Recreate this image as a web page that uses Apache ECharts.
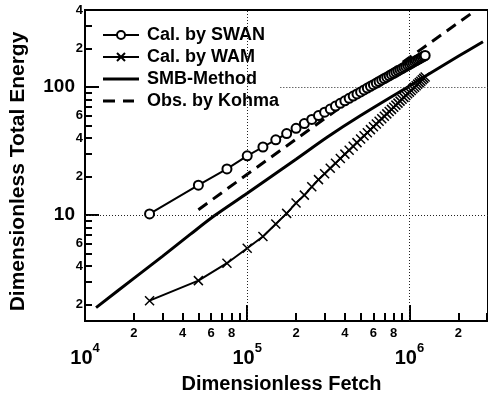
<!DOCTYPE html>
<html>
<head>
<meta charset="utf-8">
<title>Dimensionless Total Energy vs Fetch</title>
<script src="https://cdn.jsdelivr.net/npm/echarts@6.0.0/dist/echarts.min.js"></script>
<style>
  html, body { margin: 0; padding: 0; background: #fff; }
  #chart { width: 488px; height: 402px; }
</style>
</head>
<body>
<div id="chart"></div>
<script>
// 计算点的无因次风区 (SWAN 和 WAM 共用)
const calFetch = [25000, 50000, 75000, 100000, 125000, 150000, 175000, 200000, 225000, 250000,
  275000, 300000, 325000, 350000, 375000, 400000, 425000, 450000, 475000, 500000,
  525000, 550000, 575000, 600000, 625000, 650000, 675000, 700000, 725000, 750000,
  775000, 800000, 825000, 850000, 875000, 900000, 925000, 950000, 975000, 1000000,
  1025000, 1050000, 1075000, 1100000, 1125000, 1150000, 1175000, 1200000, 1225000, 1250000]

const swanEnergy = [10.2, 17.1, 22.9, 29.0, 34.0, 38.7, 43.3, 47.6, 51.8, 55.8,
  59.8, 63.6, 67.3, 71.0, 74.6, 78.1, 81.6, 85.0, 88.3, 91.6,
  94.9, 98.1, 101.3, 104.4, 107.5, 110.5, 113.6, 116.6, 119.5, 122.4,
  125.4, 128.2, 131.1, 133.9, 136.7, 139.5, 142.2, 145.0, 147.7, 150.4,
  153.1, 155.8, 158.4, 161.0, 163.6, 166.2, 168.8, 171.4, 173.9, 176.4]

const wamEnergy = [2.14, 3.07, 4.2, 5.5, 6.8, 8.5, 10.3, 12.4, 14.3, 16.6,
  18.9, 21.0, 23.2, 25.4, 27.6, 29.9, 32.1, 34.5, 36.8, 39.2,
  41.6, 44.0, 46.5, 49.0, 51.5, 54.0, 56.5, 59.1, 61.7, 64.3,
  66.9, 69.5, 72.2, 74.9, 77.6, 80.3, 83.0, 85.8, 88.5, 91.3,
  94.1, 96.9, 99.7, 102.5, 105.4, 108.3, 111.1, 114.0, 116.9, 119.8]

const smbFetch = [11700, 20000, 30000, 44500, 63000, 100000, 200000, 314000, 500000, 1000000, 1390000, 2000000, 2840000]
const smbEnergy = [1.89, 3.2, 4.75, 7.05, 9.9, 14.8, 27.3, 40.9, 59.9, 102, 131.8, 173.8, 226]

const kohmaFetch = [50000, 100000, 1000000, 2500000]
const kohmaEnergy = [11.0, 20.8, 170, 389]

// 刻度
const xMajorTicks = [10000, 100000, 1000000]
const xMinorTicks = [20000, 30000, 40000, 50000, 60000, 70000, 80000, 90000,
  200000, 300000, 400000, 500000, 600000, 700000, 800000, 900000, 2000000, 3000000]
const xMinorLabels = [20000, 40000, 60000, 80000, 200000, 400000, 600000, 800000, 2000000]
const yMajorTicks = [10, 100]
const yMinorTicks = [2, 3, 4, 5, 6, 7, 8, 9, 20, 30, 40, 50, 60, 70, 80, 90, 200, 300, 399.9]
const yMinorLabels = [2, 4, 6, 20, 40, 60, 200, 399.9]

const gridX = [100000, 1000000]
const gridY = [10, 100]

const xMin = 10000, xMax = 3050000
const yMin = 1.485, yMax = 400

function pairs(xs, ys) {
  return xs.map((x, i) => [x, ys[i]])
}

// 首位数字作为次刻度标签
function leadDigit(v) {
  const p = Math.pow(10, Math.floor(Math.log10(v) + 1e-9))
  return String(Math.round(v / p))
}

var fontFamily = '"Liberation Sans", Arial, sans-serif'
var black = '#000'

// 图例图标: 36x10 的框, 两个极小的角点撑开包围盒
var solidIcon = 'path://M0,0h0.01v0.01h-0.01z M0,3.5h36v3h-36z M36,10h-0.01v-0.01h0.01z'
var dashIcon = 'path://M0,0h0.01v0.01h-0.01z M0,3.5h12v3h-12z M20,3.5h11v3h-11z M36,10h-0.01v-0.01h0.01z'

var myChart = echarts.init(document.getElementById('chart'))

var baseX = {
  type: 'log',
  gridIndex: 0,
  position: 'bottom',
  min: xMin,
  max: xMax,
  splitLine: { show: false }
}
var baseY = {
  type: 'log',
  gridIndex: 0,
  position: 'left',
  min: yMin,
  max: yMax,
  splitLine: { show: false }
}

const option = {
  animation: false,
  backgroundColor: '#fff',
  textStyle: { fontFamily: fontFamily, color: black },
  grid: {
    left: 83,
    right: -5,
    top: 10,
    bottom: 81,
    show: true,
    borderColor: black,
    borderWidth: 2,
    backgroundColor: 'transparent'
  },
  legend: {
    orient: 'vertical',
    left: 97,
    top: 21,
    itemWidth: 36,
    itemHeight: 10,
    itemGap: 4,
    textStyle: { fontFamily: fontFamily, fontWeight: 'bold', fontSize: 18, color: black, padding: [0, 0, 0, 3] },
    data: [
      { name: 'Cal. by SWAN' },
      { name: 'Cal. by WAM' },
      { name: 'SMB-Method', icon: solidIcon },
      { name: 'Obs. by Kohma', icon: dashIcon }
    ]
  },
  xAxis: [
    Object.assign({}, baseX, {
      name: 'Dimensionless Fetch',
      nameLocation: 'middle',
      nameGap: 53,
      nameTextStyle: { fontFamily: fontFamily, fontWeight: 'bold', fontSize: 20, color: black, padding: [0, 10, 0, 0] },
      axisLine: { show: true, lineStyle: { color: black, width: 2 } },
      axisTick: { show: true, inside: true, length: 16, lineStyle: { color: black, width: 2 }, customValues: xMajorTicks },
      axisLabel: {
        show: true,
        margin: 21,
        customValues: xMajorTicks,
        formatter: function (v) {
          return '{b|10}{s|' + Math.round(Math.log10(v)) + '}'
        },
        rich: {
          b: { fontFamily: fontFamily, fontWeight: 'bold', fontSize: 20, lineHeight: 26, verticalAlign: 'bottom', color: black },
          s: { fontFamily: fontFamily, fontWeight: 'bold', fontSize: 13, lineHeight: 26, verticalAlign: 'top', color: black }
        }
      }
    }),
    Object.assign({}, baseX, {
      axisLine: { show: false },
      axisTick: { show: true, inside: true, length: 8, lineStyle: { color: black, width: 2 }, customValues: xMinorTicks },
      axisLabel: {
        show: true,
        margin: 6,
        customValues: xMinorLabels,
        formatter: leadDigit,
        fontFamily: fontFamily,
        fontWeight: 'bold',
        fontSize: 13,
        color: black
      }
    })
  ],
  yAxis: [
    Object.assign({}, baseY, {
      name: 'Dimensionless Total Energy',
      nameLocation: 'middle',
      nameGap: 56,
      nameTextStyle: { fontFamily: fontFamily, fontWeight: 'bold', fontSize: 21, color: black, padding: [0, 12, 0, 0] },
      axisLine: { show: true, lineStyle: { color: black, width: 2 } },
      axisTick: { show: true, inside: true, length: 14, lineStyle: { color: black, width: 2 }, customValues: yMajorTicks },
      axisLabel: {
        show: true,
        margin: 10,
        customValues: yMajorTicks,
        formatter: function (v) { return String(Math.round(v)) },
        fontFamily: fontFamily,
        fontWeight: 'bold',
        fontSize: 19,
        color: black
      }
    }),
    Object.assign({}, baseY, {
      axisLine: { show: false },
      axisTick: { show: true, inside: true, length: 7, lineStyle: { color: black, width: 2 }, customValues: yMinorTicks },
      axisLabel: {
        show: true,
        margin: 2,
        customValues: yMinorLabels,
        formatter: leadDigit,
        fontFamily: fontFamily,
        fontWeight: 'bold',
        fontSize: 13,
        color: black
      }
    })
  ],
  series: [
    {
      name: 'Cal. by SWAN',
      type: 'line',
      xAxisIndex: 0,
      yAxisIndex: 0,
      data: pairs(calFetch, swanEnergy),
      symbol: 'emptyCircle',
      symbolSize: 9,
      lineStyle: { color: black, width: 2 },
      itemStyle: { color: black, borderColor: black, borderWidth: 1.5 },
      z: 5
    },
    {
      name: 'Cal. by WAM',
      type: 'line',
      xAxisIndex: 0,
      yAxisIndex: 0,
      data: pairs(calFetch, wamEnergy),
      symbol: 'path://M0,0L10,10M10,0L0,10',
      symbolSize: 9,
      lineStyle: { color: black, width: 2 },
      itemStyle: { color: black, borderColor: black, borderWidth: 1.5 },
      z: 4
    },
    {
      name: 'SMB-Method',
      type: 'line',
      xAxisIndex: 0,
      yAxisIndex: 0,
      data: pairs(smbFetch, smbEnergy),
      symbol: 'none',
      smooth: 0.3,
      lineStyle: { color: black, width: 3 },
      itemStyle: { color: black },
      z: 3,
      // 网格虚线
      markLine: {
        silent: true,
        symbol: ['none', 'none'],
        label: { show: false },
        lineStyle: { color: '#222', width: 1, type: [1, 2] },
        data: [
          { xAxis: gridX[0] },
          { xAxis: gridX[1] },
          { yAxis: gridY[0] },
          [{ coord: [160000, gridY[1]] }, { coord: [xMax, gridY[1]] }]
        ]
      }
    },
    {
      name: 'Obs. by Kohma',
      type: 'line',
      xAxisIndex: 0,
      yAxisIndex: 0,
      data: pairs(kohmaFetch, kohmaEnergy),
      symbol: 'none',
      lineStyle: { color: black, width: 3, type: [11, 7] },
      itemStyle: { color: black },
      z: 3
    }
  ]
}

myChart.setOption(option, true)
</script>
</body>
</html>
